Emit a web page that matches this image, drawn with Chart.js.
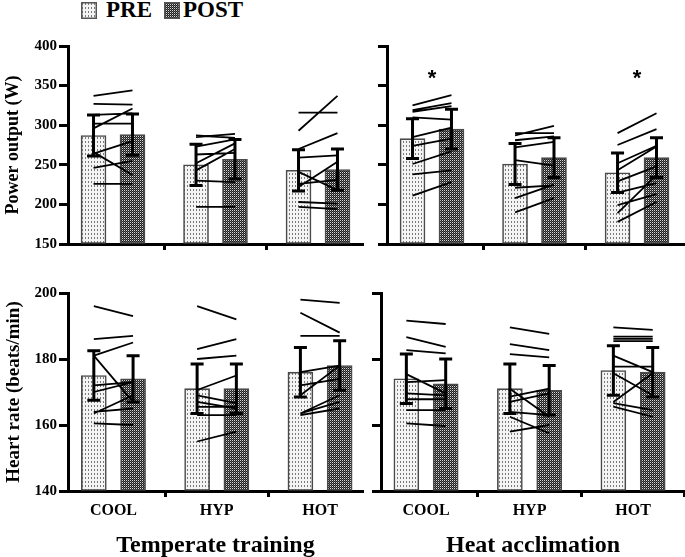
<!DOCTYPE html>
<html>
<head>
<meta charset="utf-8">
<script src="https://cdn.jsdelivr.net/npm/chart.js@4.4.0/dist/chart.umd.min.js"></script>
<style>
  body { margin: 0; background: #fff; width: 685px; height: 557px; position: relative; overflow: hidden;
         font-family: "Liberation Serif", "Times New Roman", serif; }
  .panel { position: absolute; }
  .sw { position: absolute; top: 2px; }
  .lab { position: absolute; top: -2px; font-size: 23px; line-height: 23px; font-weight: bold; color: #000; }
</style>
</head>
<body>
<canvas class="sw" id="swPre" width="16" height="17" style="left:81px"></canvas>
<span class="lab" style="left:106px">PRE</span>
<canvas class="sw" id="swPost" width="16" height="17" style="left:164px"></canvas>
<span class="lab" style="left:183px">POST</span>

<canvas class="panel" id="tl" width="370" height="260" style="left:0;top:0"></canvas>
<canvas class="panel" id="tr" width="325" height="260" style="left:360px;top:0"></canvas>
<canvas class="panel" id="bl" width="370" height="300" style="left:0;top:260px"></canvas>
<canvas class="panel" id="br" width="331" height="300" style="left:354px;top:260px"></canvas>

<script>
const groups = ['COOL', 'HYP', 'HOT'];

// Power output (W), mean and SD
const ttPowerPre = [287, 250, 243];
const ttPowerPost = [288, 257, 244];
const ttPowerPreSd = [26, 26, 26];
const ttPowerPostSd = [26, 25, 26];
const haPowerPre = [283, 251, 240];
const haPowerPost = [295, 259, 259];
const haPowerPreSd = [25, 26, 25];
const haPowerPostSd = [25, 25, 25];

// Heart rate (beats/min), mean and SD
const ttHrPre = [175, 171, 176];
const ttHrPost = [174, 171, 178];
const ttHrPreSd = [7.5, 7.5, 7.5];
const ttHrPostSd = [7, 7.5, 7.5];
const haHrPre = [174, 171, 176.5];
const haHrPost = [172.5, 170.5, 176];
const haHrPreSd = [7.5, 7.5, 7.5];
const haHrPostSd = [7.5, 7.5, 7.5];

// individual subjects [pre, post] per condition
const ttPowerSubj = [
  [[337,344],[327,326],[313,315],[302,302],[296,321],[264,280],[266,237],[246,255],[226,226]],
  [[285,289],[287,284],[273,282],[263,265],[252,277],[243,270],[230,228],[197,197]],
  [[293,337],[316,316],[270,290],[259,262],[241,218],[222,254],[226,231],[203,201],[197,194]]
];
const haPowerSubj = [
  [[325,338],[319,328],[317,324],[310,307],[285,297],[274,283],[251,267],[238,243],[211,228]],
  [[287,299],[290,290],[281,286],[272,279],[256,249],[221,224],[208,225],[190,208]],
  [[290,315],[275,295],[252,274],[243,273],[229,248],[215,227],[199,213],[189,237],[178,203]]
];
const ttHrSubj = [
  [[196,193],[186,187],[181,185],[181,167],[172,173],[170,173],[163.5,169],[164,165],[160.5,160]],
  [[196,192],[183,186],[180,181],[170.6,175],[169,166.6],[167,165],[165.5,165.5],[163,163],[155,158]],
  [[198,197],[194,188],[187,187],[176,178],[172,174],[169,178],[163.5,169],[163.5,167],[163,165]]
];
const haHrSubj = [
  [[191.6,190.6],[186.6,183.7],[182.7,181.7],[175.4,169.6],[173,173.6],[169.6,169],[167.8,167.8],[164.5,164.5],[160.5,159.7]],
  [[189.6,187.6],[184.5,182.7],[181.5,180.5],[171,162.5],[168.6,171],[167,169.6],[164,163],[162.5,157.5],[158,160]],
  [[189.6,188.8],[186.8,186.8],[186.1,186.1],[185.4,185.4],[181,176],[177.7,177.7],[175.7,169],[167,175.7],[166.6,164.5],[165.6,162.5]]
];
const haPowerStars = [0, 2];

const OFF = 0.19; // bar centre offset from group centre

Chart.defaults.font.family = '"Liberation Serif", "Times New Roman", serif';
Chart.defaults.font.weight = 'bold';
Chart.defaults.color = '#000';

function makePattern(kind) {
  const c = document.createElement('canvas');
  const g = c.getContext('2d');
  if (kind === 'pre') {
    c.width = 3; c.height = 4;
    g.fillStyle = '#f4f4f4'; g.fillRect(0, 0, 3, 4);
    g.fillStyle = '#7a7a7a'; g.fillRect(1, 1, 1, 2);
  } else {
    c.width = 2; c.height = 2;
    g.fillStyle = '#1e1e1e'; g.fillRect(0, 0, 2, 2);
    g.fillStyle = '#d8d8d8'; g.fillRect(0, 0, 1, 1);
    g.fillStyle = '#5e5e5e'; g.fillRect(1, 1, 1, 1);
  }
  return g.createPattern(c, 'repeat');
}
const prePattern = makePattern('pre');
const postPattern = makePattern('post');

// legend swatches
[['swPre', prePattern], ['swPost', postPattern]].forEach(([id, pat]) => {
  const g = document.getElementById(id).getContext('2d');
  g.fillStyle = pat; g.fillRect(0, 0, 16, 17);
  g.strokeStyle = '#555'; g.lineWidth = 1.5; g.strokeRect(0.75, 0.75, 14.5, 15.5);
});

function subjectPoints(subj) {
  const pts = [];
  subj.forEach((pairs, i) => {
    pairs.forEach(p => {
      pts.push({x: i - OFF, y: p[0]}, {x: i + OFF, y: p[1]}, {x: i, y: null});
    });
  });
  return pts;
}

// error bars, asterisks, x-axis stub left of the y axis
const extras = {
  id: 'extras',
  afterDatasetsDraw(chart, args, opts) {
    const {ctx, scales: {x, y}, chartArea} = chart;
    ctx.save();
    ctx.strokeStyle = '#000';
    ctx.lineWidth = 3;
    opts.err.forEach(e => {
      const px = x.getPixelForValue(e.x);
      const t = y.getPixelForValue(e.m + e.sd);
      const b = y.getPixelForValue(e.m - e.sd);
      ctx.beginPath();
      ctx.moveTo(px, t); ctx.lineTo(px, b);
      ctx.moveTo(px - 6.5, t); ctx.lineTo(px + 6.5, t);
      ctx.moveTo(px - 6.5, b); ctx.lineTo(px + 6.5, b);
      ctx.stroke();
    });
    ctx.fillStyle = '#000';
    ctx.font = 'bold 22px "Liberation Sans", Arial, sans-serif';
    ctx.textAlign = 'center';
    ctx.textBaseline = 'middle';
    (opts.stars || []).forEach(i => {
      ctx.fillText('*', x.getPixelForValue(i), y.getPixelForValue(opts.starY));
    });
    if (opts.stub) {
      const yy = Math.round(chartArea.bottom) + 0.5;
      ctx.beginPath();
      ctx.moveTo(chartArea.left - opts.stub, yy);
      ctx.lineTo(chartArea.left, yy);
      ctx.stroke();
    }
    ctx.restore();
  }
};

function makePanel(id, p) {
  const err = [];
  p.pre.forEach((v, i) => {
    err.push({x: i - OFF, m: v, sd: p.preSd[i]});
    err.push({x: i + OFF, m: p.post[i], sd: p.postSd[i]});
  });
  const ctx = document.getElementById(id).getContext('2d');
  return new Chart(ctx, {
    type: 'bar',
    data: {
      datasets: [{
        type: 'line',
        data: subjectPoints(p.subj),
        borderColor: '#000',
        borderWidth: 1.8,
        pointRadius: 0,
        spanGaps: false,
        order: 1
      }, {
        label: 'PRE',
        data: p.pre.map((v, i) => ({x: i - OFF, y: v})),
        backgroundColor: prePattern,
        borderColor: '#4a4a4a',
        borderWidth: 1.6,
        borderSkipped: false,
        barThickness: 25,
        grouped: false,
        base: p.yMin,
        order: 2
      }, {
        label: 'POST',
        data: p.post.map((v, i) => ({x: i + OFF, y: v})),
        backgroundColor: postPattern,
        borderColor: '#4a4a4a',
        borderWidth: 1.6,
        borderSkipped: false,
        barThickness: 25,
        grouped: false,
        base: p.yMin,
        order: 2
      }]
    },
    options: {
      responsive: false,
      animation: false,
      events: [],
      layout: { padding: p.pad },
      plugins: {
        legend: { display: false },
        tooltip: { enabled: false },
        extras: { err: err, stars: p.stars, starY: p.starY, stub: p.stub }
      },
      scales: {
        x: {
          type: 'linear',
          min: p.xMin,
          max: p.xMax,
          offset: false,
          afterBuildTicks: s => { s.ticks = groups.map((g, i) => ({value: i})); },
          afterFit: s => { s.height = p.xH; },
          ticks: {
            display: !!p.xTitle,
            autoSkip: false,
            maxRotation: 0,
            padding: 4,
            font: { size: 16, weight: 'bold' },
            callback: v => groups[v]
          },
          grid: { drawOnChartArea: false, tickLength: 6, tickWidth: 3, tickColor: '#000' },
          border: { display: true, width: 3, color: '#000' },
          title: {
            display: !!p.xTitle,
            text: p.xTitle,
            font: { size: 24, weight: 'bold' },
            padding: { top: 0, bottom: 0 }
          }
        },
        y: {
          min: p.yMin,
          max: p.yMax,
          afterFit: s => { s.width = p.yW; },
          ticks: {
            stepSize: p.yStep,
            padding: 2,
            font: { size: 15, weight: 'bold' },
            callback: v => p.yTitle ? v : ''
          },
          grid: { drawOnChartArea: false, tickLength: 9, tickWidth: 3, tickColor: '#000' },
          border: { display: true, width: 3, color: '#000' },
          title: {
            display: !!p.yTitle,
            text: p.yTitle,
            font: { size: p.yTitleSize, weight: 'bold' },
            padding: { top: 3, bottom: 0 }
          }
        }
      }
    },
    plugins: [extras]
  });
}

makePanel('tl', {
  pre: ttPowerPre, post: ttPowerPost, preSd: ttPowerPreSd, postSd: ttPowerPostSd, subj: ttPowerSubj,
  yMin: 150, yMax: 400, yStep: 50, yTitle: 'Power output (W)', yTitleSize: 18, yW: 68,
  xMin: -0.439, xMax: 2.439, xH: 16,
  pad: { top: 46, right: 7, left: 0, bottom: 0 }
});
makePanel('tr', {
  pre: haPowerPre, post: haPowerPost, preSd: haPowerPreSd, postSd: haPowerPostSd, subj: haPowerSubj,
  yMin: 150, yMax: 400, yStep: 50, yW: 27,
  xMin: -0.439, xMax: 2.468, xH: 16, stub: 7,
  stars: haPowerStars, starY: 358,
  pad: { top: 46, right: 0, left: 0, bottom: 0 }
});
makePanel('bl', {
  pre: ttHrPre, post: ttHrPost, preSd: ttHrPreSd, postSd: ttHrPostSd, subj: ttHrSubj,
  yMin: 140, yMax: 200, yStep: 20, yTitle: 'Heart rate (beats/min)', yTitleSize: 19, yW: 68,
  xMin: -0.44, xMax: 2.416, xH: 69, xTitle: 'Temperate training', stub: 8,
  pad: { top: 33, right: 7, left: 0, bottom: 0 }
});
makePanel('br', {
  pre: haHrPre, post: haHrPost, preSd: haHrPreSd, postSd: haHrPostSd, subj: haHrSubj,
  yMin: 140, yMax: 200, yStep: 20, yW: 27,
  xMin: -0.435, xMax: 2.502, xH: 69, xTitle: 'Heat acclimation', stub: 6,
  pad: { top: 33, right: 0, left: 0, bottom: 0 }
});
</script>
</body>
</html>
